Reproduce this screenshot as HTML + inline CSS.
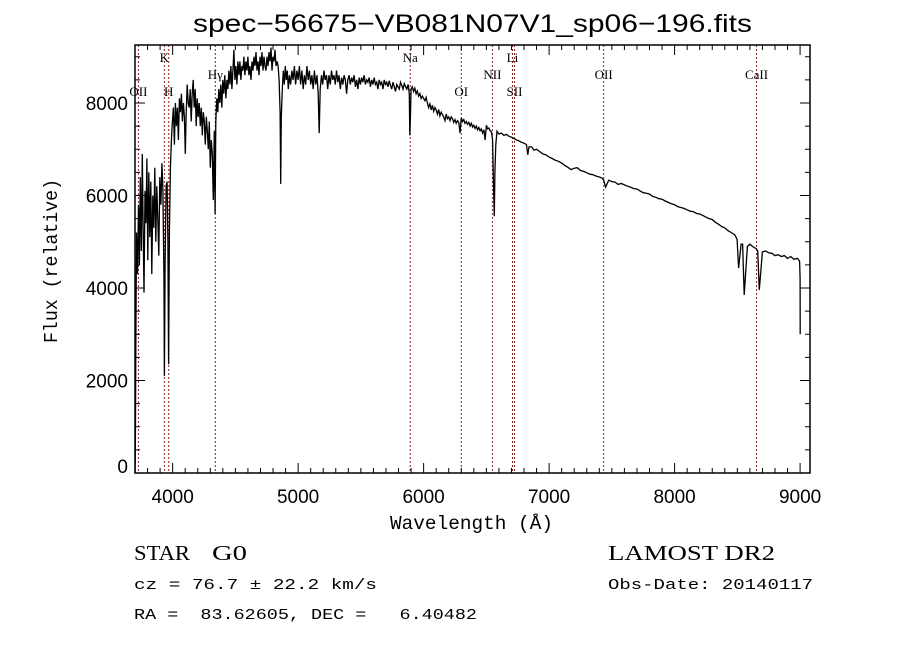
<!DOCTYPE html>
<html><head><meta charset="utf-8"><style>
body{margin:0;background:#fff;}
svg{display:block;}
text{font-family:"Liberation Sans",sans-serif;white-space:pre;}
.mono{font-family:"Liberation Mono","DejaVu Sans Mono",monospace;}
.serif{font-family:"Liberation Serif",serif;}
</style></head><body>
<svg id="chart" width="900" height="649" viewBox="0 0 900 649" xmlns="http://www.w3.org/2000/svg" xml:space="preserve">
<rect width="900" height="649" fill="#fff"/>
<text x="193" y="32" font-size="25" textLength="559" lengthAdjust="spacingAndGlyphs">spec−56675−VB081N07V1_sp06−196.fits</text>
<g id="lines"></g>
<g id="spec"></g>
<g id="axes"></g>
<text class="mono" x="390" y="529" font-size="19" textLength="163" lengthAdjust="spacingAndGlyphs">Wavelength (Å)</text>
<text class="mono" transform="translate(57,343) rotate(-90)" font-size="19" textLength="164" lengthAdjust="spacingAndGlyphs">Flux (relative)</text>
<text class="serif" x="134" y="560" font-size="21" textLength="56" lengthAdjust="spacingAndGlyphs">STAR</text>
<text class="serif" x="212" y="560" font-size="21" textLength="35" lengthAdjust="spacingAndGlyphs">G0</text>
<text class="serif" x="608" y="560" font-size="21" textLength="167" lengthAdjust="spacingAndGlyphs">LAMOST DR2</text>
<text class="mono" x="134" y="589" font-size="15" textLength="243" lengthAdjust="spacingAndGlyphs">cz = 76.7 ± 22.2 km/s</text>
<text class="mono" x="608" y="589" font-size="15" textLength="205" lengthAdjust="spacingAndGlyphs">Obs-Date: 20140117</text>
<text class="mono" x="134" y="619" font-size="15" textLength="343" lengthAdjust="spacingAndGlyphs">RA =  83.62605, DEC =   6.40482</text>
</svg>
<script>
const wavelengths=[3700,3702,3706,3712,3720,3728,3735,3742,3750,3758,3765,3772,3780,3788,3795,3802,3810,3818,3826,3834,3842,3850,3858,3866,3874,3882,3890,3898,3906,3914,3922,3930,3934,3940,3948,3956,3962,3968,3974,3982,3990,3998,4006,4014,4022,4030,4038,4046,4054,4062,4070,4078,4086,4094,4101,4108,4116,4124,4132,4140,4148,4156,4164,4172,4180,4188,4196,4204,4212,4220,4228,4236,4244,4252,4260,4268,4276,4284,4292,4300,4308,4316,4324,4332,4338,4344,4352,4360,4368,4376,4384,4392,4400,4408,4416,4424,4432,4440,4448,4456,4464,4472,4480,4488,4496,4504,4512,4520,4528,4536,4544,4552,4560,4568,4576,4584,4592,4600,4608,4616,4624,4632,4640,4648,4656,4664,4672,4680,4688,4696,4704,4712,4720,4728,4736,4744,4752,4760,4768,4776,4784,4792,4800,4808,4816,4824,4832,4840,4848,4856,4861,4866,4874,4882,4890,4898,4906,4914,4922,4930,4940,4950,4960,4970,4980,4990,5000,5010,5020,5030,5040,5050,5060,5070,5080,5090,5100,5110,5120,5130,5140,5150,5160,5168,5176,5186,5196,5206,5216,5226,5236,5246,5256,5266,5276,5286,5296,5306,5316,5326,5336,5346,5356,5366,5376,5386,5396,5406,5416,5426,5436,5446,5456,5466,5476,5486,5496,5506,5516,5526,5536,5546,5556,5566,5576,5586,5596,5606,5616,5626,5636,5646,5656,5666,5676,5686,5696,5706,5716,5726,5736,5746,5756,5766,5776,5786,5796,5806,5816,5826,5836,5846,5856,5866,5876,5886,5890,5894,5900,5910,5920,5930,5940,5950,5960,5970,5980,5990,6000,6010,6020,6030,6040,6050,6060,6070,6080,6090,6100,6110,6120,6130,6140,6150,6160,6170,6180,6190,6200,6210,6220,6230,6240,6250,6260,6270,6280,6290,6300,6310,6320,6330,6340,6350,6360,6370,6380,6390,6400,6410,6420,6430,6440,6450,6460,6470,6480,6490,6500,6510,6520,6530,6540,6550,6556,6563,6568,6575,6585,6600,6620,6640,6660,6680,6700,6720,6740,6760,6780,6800,6820,6830,6840,6860,6880,6900,6925,6950,6975,7000,7025,7050,7075,7100,7125,7150,7175,7200,7225,7250,7275,7300,7325,7350,7375,7400,7420,7435,7450,7475,7500,7525,7550,7575,7600,7625,7650,7675,7700,7725,7750,7775,7800,7825,7850,7875,7900,7925,7950,7975,8000,8025,8050,8075,8100,8125,8150,8175,8200,8225,8250,8275,8300,8325,8350,8375,8400,8425,8450,8480,8498,8510,8530,8542,8555,8580,8600,8620,8650,8662,8675,8700,8725,8750,8775,8800,8825,8850,8875,8900,8925,8950,8980,8990,8996,9000,9001];
const fluxes=[0,300,2600,5200,4300,5800,4500,6400,4800,6900,5200,3900,6100,5400,6800,4600,6500,5100,6300,4300,6000,5300,6600,5000,6200,5500,4700,6400,5800,6700,6100,4300,2100,4500,6200,6300,5000,2350,5200,6600,7200,7600,7900,7100,8000,7500,7900,7200,8100,7800,8200,7600,8000,7700,6900,7800,8400,8000,7900,8300,7600,8200,8500,7900,8300,7500,8100,7700,8000,7500,7900,7300,7800,7600,7100,7700,7400,7000,7600,6600,7200,6900,5900,7400,5600,7600,8100,7800,8300,8000,8400,7900,8500,8200,8600,8100,8500,8300,8700,8400,8800,8300,8700,9150,8500,8800,8400,8900,8600,8900,8500,8800,8700,9000,8600,8900,8700,9000,8600,8800,8500,8900,8700,9000,8800,9100,8700,8900,8600,9000,8800,9100,8700,9000,8800,8700,9000,8800,9100,8900,9200,8700,9000,8900,9150,8800,8900,8800,8500,7800,6250,7700,8300,8700,8400,8800,8500,8700,8300,8600,8400,8700,8500,8800,8400,8700,8500,8800,8400,8700,8300,8600,8400,8800,8500,8700,8400,8600,8300,8700,8400,8600,8200,7350,8300,8600,8400,8700,8500,8600,8300,8600,8400,8700,8500,8600,8400,8700,8450,8600,8300,8550,8400,8600,8500,8200,8500,8600,8400,8550,8450,8600,8350,8500,8300,8550,8400,8550,8450,8600,8400,8500,8450,8550,8350,8500,8400,8550,8400,8450,8300,8500,8400,8450,8300,8500,8400,8450,8350,8480,8380,8300,8450,8350,8250,8400,8350,8300,8450,8380,8300,8420,8350,8300,8400,8200,7300,7600,8300,8350,8250,8320,8200,8260,8150,8200,8100,8150,8100,8050,8120,8000,7900,7980,7850,7950,7820,7900,7850,7760,7860,7720,7800,7750,7700,7620,7760,7660,7700,7620,7700,7660,7580,7640,7560,7620,7580,7350,7680,7600,7640,7560,7600,7540,7580,7500,7560,7480,7520,7450,7500,7420,7470,7400,7440,7350,7420,7200,7520,7440,7460,7400,7380,7200,6300,5550,6500,7100,7390,7330,7350,7300,7320,7280,7260,7230,7200,7180,7150,7130,7100,6880,7050,7050,6980,7000,6950,6900,6880,6830,6800,6760,6740,6700,6650,6610,6560,6590,6600,6540,6520,6490,6460,6450,6420,6400,6380,6330,6180,6330,6300,6290,6240,6260,6230,6200,6180,6150,6140,6100,6060,6050,6030,5980,5960,5930,5920,5880,5850,5820,5800,5760,5740,5720,5690,5660,5650,5610,5600,5570,5530,5500,5480,5420,5380,5330,5300,5240,5200,5150,5050,4430,4950,4950,3850,4900,4950,4900,4850,4800,3960,4780,4800,4760,4750,4700,4720,4680,4700,4640,4680,4620,4640,4600,4580,4200,3000,900,0];
const lineNames=["OII","K","H","Hγ","Na","OI","NII","Li","SII","OII","CaII"];
const lineWaves=[3727,3934,3969,4340,5893,6300,6548,6708,6724,7435,8653];
const lineLabelRow=[2,0,2,1,0,2,1,0,2,1,1];
const xTicks=[4000,5000,6000,7000,8000,9000];
const yTicks=[0,2000,4000,6000,8000];

const NS="http://www.w3.org/2000/svg";
const L=135,R=810,T=45,B=473;
const xMin=3700,xMax=9079,yMin=0,yMax=9254;
function xs(v){return L+(v-xMin)/(xMax-xMin)*(R-L);}
function ys(v){return B-(v-yMin)/(yMax-yMin)*(B-T);}
function mk(tag,attrs,parent){const e=document.createElementNS(NS,tag);for(const k in attrs)e.setAttribute(k,attrs[k]);parent.appendChild(e);return e;}

const gl=document.getElementById('lines');
const rowY=[62,79,96];
lineWaves.forEach((w,i)=>{
  const ln=mk('line',{x1:xs(w),x2:xs(w),y1:T,y2:B,stroke:'#8b2020','stroke-width':1,'stroke-dasharray':'2,2'},gl);
  
  
  const t=mk('text',{x:xs(w),y:rowY[lineLabelRow[i]],'text-anchor':'middle','font-size':13,class:'serif'},gl);
  t.textContent=lineNames[i];
  
  
});

const gs=document.getElementById('spec');
let d='';
wavelengths.forEach((w,i)=>{d+=(i?'L':'M')+xs(w).toFixed(1)+','+ys(Math.min(fluxes[i],yMax)).toFixed(1);});
const p=mk('path',{d:d,fill:'none',stroke:'#000','stroke-width':1.3,'stroke-linejoin':'miter'},gs);



const ga=document.getElementById('axes');
const box=mk('rect',{x:L,y:T,width:R-L,height:B-T,fill:'none',stroke:'#000','stroke-width':1.5},ga);


for(let v=3700;v<=xMax;v+=100){
  const major=v%1000===0,len=major?10:5,x=xs(v);
  mk('line',{x1:x,x2:x,y1:B,y2:B-len,stroke:'#000','stroke-width':1},ga);
  mk('line',{x1:x,x2:x,y1:T,y2:T+len,stroke:'#000','stroke-width':1},ga);
}
for(let v=0;v<=yMax;v+=500){
  const major=v%2000===0,len=major?10:5,y=ys(v);
  mk('line',{x1:L,x2:L+len,y1:y,y2:y,stroke:'#000','stroke-width':1},ga);
  mk('line',{x1:R,x2:R-len,y1:y,y2:y,stroke:'#000','stroke-width':1},ga);
}
xTicks.forEach(v=>{
  const t=mk('text',{x:xs(v),y:503,'text-anchor':'middle','font-size':19},ga);
  t.textContent=v;
  
  
});
yTicks.forEach(v=>{
  const t=mk('text',{x:128,y:ys(v)+(v===0?0:7),'text-anchor':'end','font-size':19},ga);
  t.textContent=v;
  
  
});
</script>
</body></html>
